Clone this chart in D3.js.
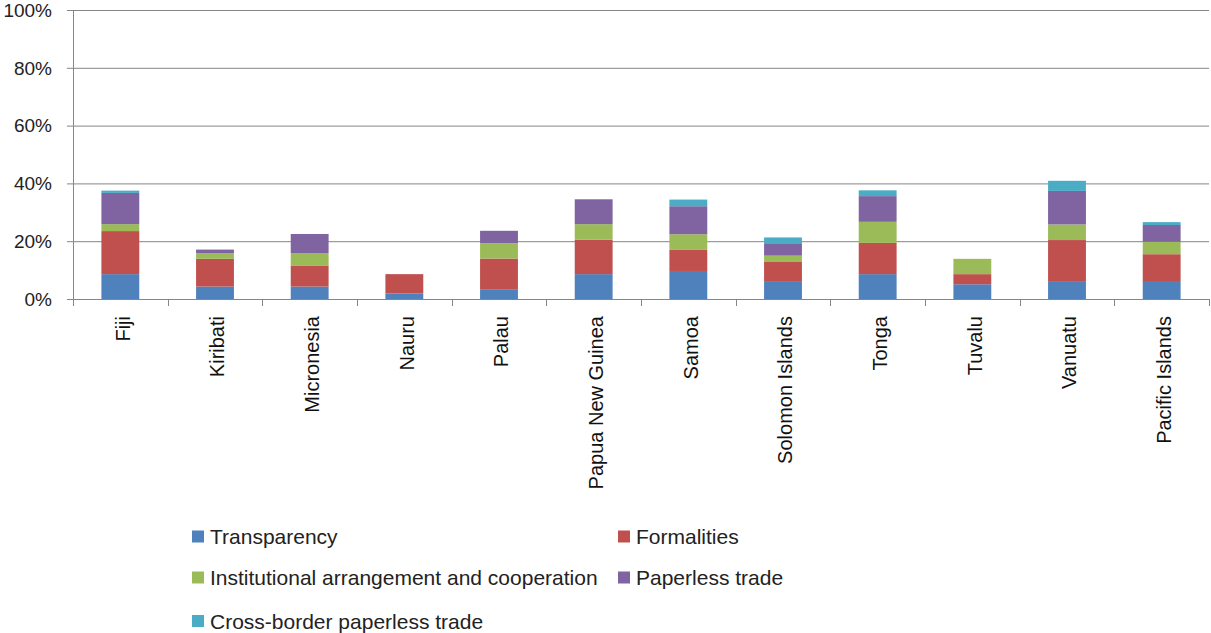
<!DOCTYPE html>
<html>
<head>
<meta charset="utf-8">
<script src="https://cdn.jsdelivr.net/npm/d3@7"></script>
<style>
  html, body { margin: 0; padding: 0; background: #fff; }
  svg { display: block; font-family: "Liberation Sans", Arial, sans-serif; }
</style>
</head>
<body>
<svg id="chart" width="1211" height="633"></svg>
<script>
// Economies on the category axis
const categories = ["Fiji", "Kiribati", "Micronesia", "Nauru", "Palau", "Papua New Guinea",
  "Samoa", "Solomon Islands", "Tonga", "Tuvalu", "Vanuatu", "Pacific Islands"];

// Implementation share by group of measures (%)
const transparency   = [8.6, 4.3, 4.3, 1.9, 3.2, 8.6, 9.7, 6.2, 8.6, 5.1, 6.2, 5.9];
const formalities    = [14.9, 9.6, 7.3, 6.7, 10.8, 11.9, 7.3, 6.6, 10.8, 3.5, 14.2, 9.6];
const institutional  = [2.4, 2.0, 4.3, 0, 5.3, 5.4, 5.4, 2.2, 7.3, 5.3, 5.4, 4.3];
const paperless      = [10.8, 1.2, 6.6, 0, 4.3, 8.6, 9.7, 4.3, 8.9, 0, 11.6, 5.8];
const crossBorder    = [0.8, 0, 0, 0, 0, 0, 2.3, 2.0, 2.0, 0, 3.5, 1.0];

const seriesNames = ["Transparency", "Formalities", "Institutional arrangement and cooperation",
  "Paperless trade", "Cross-border paperless trade"];
const seriesColors = ["#4F81BD", "#C0504D", "#9BBB59", "#8064A2", "#4BACC6"];
const yTicks = [0, 20, 40, 60, 80, 100];

const seriesValues = [transparency, formalities, institutional, paperless, crossBorder];
const rows = categories.map((c, i) => {
  const r = { category: c };
  seriesNames.forEach((s, k) => { r[s] = seriesValues[k][i]; });
  return r;
});
const stacked = d3.stack().keys(seriesNames)(rows);

const svg = d3.select("#chart");
const plotLeft = 73, plotRight = 1209, plotTop = 10, plotBottom = 299;
const axisColor = "#868686";

const x = d3.scaleBand().domain(categories).range([plotLeft, plotRight]).paddingInner(0.6).paddingOuter(0.3);
const xBand = d3.scaleBand().domain(categories).range([plotLeft, plotRight]);
const y = d3.scaleLinear().domain([0, 100]).range([plotBottom, plotTop]);

// Horizontal gridlines with short ticks left of the axis
svg.append("g").selectAll("line").data(yTicks).join("line")
  .attr("x1", plotLeft - 6).attr("x2", plotRight)
  .attr("y1", d => y(d) + 0.5).attr("y2", d => y(d) + 0.5)
  .attr("stroke", axisColor).attr("stroke-width", 1);

// Value axis labels
svg.append("g").selectAll("text").data(yTicks).join("text")
  .attr("x", 52).attr("y", d => y(d))
  .attr("dy", "0.36em")
  .attr("text-anchor", "end")
  .attr("font-size", 19)
  .attr("fill", "#222")
  .text(d => d + "%");

// Stacked bars
svg.append("g").selectAll("g").data(stacked).join("g")
  .attr("fill", (d, i) => seriesColors[i])
  .selectAll("rect").data(d => d).join("rect")
  .attr("x", d => x(d.data.category))
  .attr("width", x.bandwidth())
  .attr("y", d => y(d[1]))
  .attr("height", d => Math.max(0, y(d[0]) - y(d[1])));

// Axis lines
svg.append("line").attr("x1", plotLeft + 0.5).attr("x2", plotLeft + 0.5).attr("y1", plotTop).attr("y2", plotBottom + 7)
  .attr("stroke", axisColor);
svg.append("line").attr("x1", plotLeft).attr("x2", plotRight).attr("y1", plotBottom + 0.5).attr("y2", plotBottom + 0.5)
  .attr("stroke", axisColor);

// Category boundary ticks
const boundaries = categories.map(c => xBand(c)).concat([plotRight]);
svg.append("g").selectAll("line").data(boundaries.slice(1)).join("line")
  .attr("x1", d => Math.round(d) + 0.5).attr("x2", d => Math.round(d) + 0.5)
  .attr("y1", plotBottom).attr("y2", plotBottom + 7)
  .attr("stroke", axisColor);

// Rotated category labels
svg.append("g").selectAll("text").data(categories).join("text")
  .attr("transform", d => `translate(${xBand(d) + xBand.bandwidth() / 2 + 2},${plotBottom + 17}) rotate(-90)`)
  .attr("text-anchor", "end")
  .attr("dy", "0.36em")
  .attr("font-size", 20)
  .attr("fill", "#111")
  .text(d => d);

// Legend, two columns
const legendPos = [[192, 536.5], [618, 536.5], [192, 577.5], [618, 577.5], [192, 621]];
const legend = svg.append("g").selectAll("g").data(seriesNames).join("g")
  .attr("transform", (d, i) => `translate(${legendPos[i][0]},${legendPos[i][1]})`);
legend.append("rect").attr("x", 0).attr("y", -6).attr("width", 12).attr("height", 12)
  .attr("fill", (d, i) => seriesColors[i]);
legend.append("text").attr("x", 18).attr("y", 0).attr("dy", "0.36em")
  .attr("font-size", 21).attr("fill", "#222")
  .text(d => d);
</script>
</body>
</html>
